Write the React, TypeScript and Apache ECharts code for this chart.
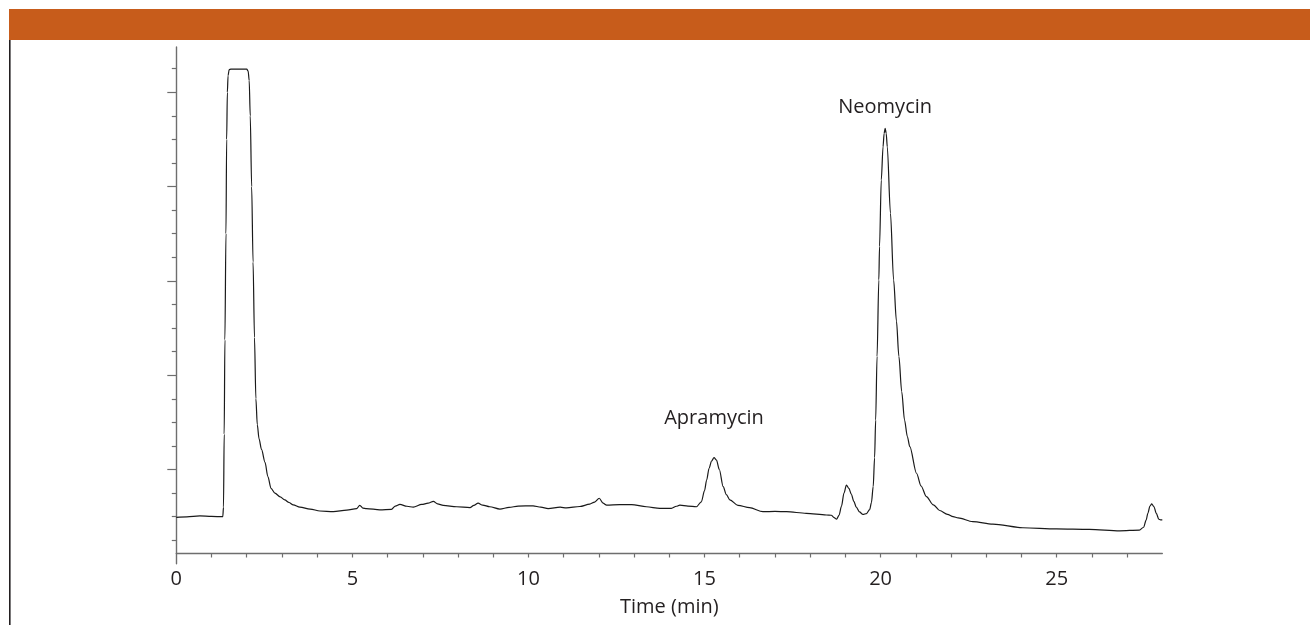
import React, { useEffect, useRef } from "react";
import * as echarts from "echarts";

// Retention time (min)
const timeMin = [
  0, 0.3, 0.67, 1.0, 1.32,
  1.34, 1.36, 1.38, 1.41, 1.43, 1.45, 1.47, 1.5, 1.55, 1.8, 2.0, 2.04, 2.07,
  2.1, 2.14, 2.18, 2.22, 2.26, 2.3, 2.35, 2.42, 2.52, 2.6, 2.69, 2.8, 2.95, 3.08, 3.2, 3.32, 3.51,
  3.8, 4.08, 4.46, 4.84, 5.12, 5.21, 5.3, 5.4, 5.78, 6.11, 6.22, 6.35, 6.55, 6.73, 6.97, 7.15,
  7.3, 7.42, 7.58, 7.96, 8.34, 8.45, 8.57, 8.7, 8.9, 9.19, 9.45, 9.71, 10.13, 10.35, 10.56, 10.9,
  11.08, 11.46, 11.74, 11.88, 12.01, 12.12, 12.22, 12.59, 12.93, 13.35, 13.73, 14.06, 14.2, 14.3,
  14.53, 14.77, 14.91, 15.0, 15.06, 15.13, 15.2, 15.27, 15.34, 15.42, 15.53, 15.62, 15.72, 15.95,
  16.28, 16.66, 17.0, 17.33, 17.89, 18.46, 18.6, 18.68, 18.75, 18.82, 18.89, 18.96, 19.03, 19.1,
  19.17, 19.24, 19.31, 19.4, 19.5, 19.6, 19.69, 19.74, 19.79, 19.83, 19.86, 19.9, 19.95, 19.97,
  20.02, 20.07, 20.1, 20.13, 20.16, 20.19, 20.28, 20.37, 20.45, 20.52, 20.6, 20.68, 20.76, 20.83,
  21.02, 21.15, 21.3, 21.5, 21.68, 21.9, 22.06, 22.2, 22.62, 23.19, 24.04, 24.99, 25.93, 26.79,
  27.35, 27.47, 27.54, 27.59, 27.65, 27.7, 27.76, 27.83, 27.9, 27.95, 28.0,
];

// Detector response (arbitrary units)
const signal = [
  19.7, 19.9, 20.3, 20.1, 20.0,
  24, 55, 95, 140, 180, 200, 207, 209.6, 209.8, 209.8, 209.8, 209, 205,
  190, 160, 128, 96, 70, 59, 53, 48.5, 43, 37, 32, 30, 28.4, 27.1, 26, 25, 24.0,
  23.2, 22.4, 22.1, 22.8, 23.4, 24.8, 23.6, 23.4, 22.9, 23.1, 24.5, 25.2, 24.4, 24.0, 25.2, 25.7,
  26.5, 25.4, 24.8, 24.2, 23.8, 24.8, 25.7, 24.9, 24.2, 23.2, 23.9, 24.5, 24.6, 24.0, 23.4, 24.0,
  23.7, 24.3, 25.3, 26.2, 27.8, 25.7, 24.9, 25.1, 25.1, 24.2, 23.5, 23.5, 24.4, 24.9,
  24.5, 24.2, 26.3, 31, 35.5, 40.5, 43.6, 45.0, 44.0, 40.0, 32.7, 29.3, 27.1, 24.8,
  23.8, 22.1, 22.2, 22.1, 21.4, 20.7, 20.6, 19.6, 18.9, 20.6, 24.5, 30.0, 33.4, 32.0,
  29.5, 26.5, 24.0, 22.0, 20.9, 21.3, 23.0, 26.0, 32.7, 45, 61, 88, 120.4, 134.5,
  162.8, 176.9, 182.5, 184.7, 182.5, 176.9, 148.7, 120.4, 103, 88, 73, 61, 54, 49.7,
  38.4, 33, 28.5, 25.0, 22.6, 21.0, 20.0, 19.5, 17.9, 16.8, 15.3, 14.8, 14.6, 14.0,
  14.3, 15.5, 18.5, 21.4, 24.5, 25.4, 24.3, 21.4, 18.9, 18.6, 18.6,
];

const xTickLabels = [0, 5, 10, 15, 20, 25];
const xTickValues = [1, 2, 3, 4, 5, 6, 7, 8, 9, 10, 11, 12, 13, 14, 15, 16, 17, 18, 19, 20, 21, 22, 23, 24, 25, 26, 27];
const yMajorTicks = [40, 80, 120, 160, 200];
const axisName = "Time (min)";

const peakNames = ["Apramycin", "Neomycin"];
const peakTimes = [15.27, 20.13];
const peakHeights = [45.0, 184.7];
const peakLabelGaps = [31, 13];

const FONT = "'Open Sans', 'Noto Sans', sans-serif";
const TEXT = "#231f20";
const AXIS = "#6e6e6e";

export default function App() {
  const ref = useRef<HTMLDivElement>(null);
  useEffect(() => {
    if (!ref.current) return;
    const chart = echarts.init(ref.current, null, { renderer: "svg" });
    const data = timeMin.map((t, i) => [t, signal[i]]);
    chart.setOption({
      animation: false,
      textStyle: { fontFamily: FONT },
      grid: { left: 176.3, right: 147.7, top: 47, bottom: 61.2, containLabel: false, outerBoundsMode: "none" },
      xAxis: {
        type: "value",
        min: 0,
        max: 28,
        interval: 1,
        offset: -10.8,
        name: axisName,
        nameLocation: "middle",
        nameGap: 42,
        nameTextStyle: { color: TEXT, fontSize: 20, fontFamily: FONT },
        axisLine: { show: true, onZero: false, lineStyle: { color: AXIS, width: 1.4 } },
        axisTick: { show: true, length: 4.5, customValues: xTickValues, lineStyle: { color: AXIS, width: 1.2 } },
        axisLabel: { show: true, customValues: xTickLabels, margin: 14, color: TEXT, fontSize: 20, fontFamily: FONT },
        splitLine: { show: false },
      },
      yAxis: {
        type: "value",
        min: 0,
        max: 219.2,
        interval: 40,
        axisLine: { show: true, onZero: false, lineStyle: { color: AXIS, width: 1.4 } },
        axisTick: { show: true, length: 9, customValues: yMajorTicks, lineStyle: { color: AXIS, width: 1.2 } },
        minorTick: { show: true, splitNumber: 4, length: 4.5, lineStyle: { color: AXIS, width: 1.2 } },
        axisLabel: { show: false },
        splitLine: { show: false },
        minorSplitLine: { show: false },
      },
      series: [
        {
          type: "line",
          data,
          symbol: "none",
          smooth: 0.3,
          smoothMonotone: "x",
          silent: true,
          lineStyle: { color: "#1a1a1a", width: 1.2 },
          markPoint: {
            symbol: "circle",
            symbolSize: 0,
            silent: true,
            itemStyle: { color: "transparent" },
            data: peakNames.map((n, i) => ({
              name: n,
              coord: [peakTimes[i], peakHeights[i]],
              label: {
                show: true,
                position: "top",
                distance: peakLabelGaps[i],
                formatter: n,
                color: TEXT,
                fontSize: 20,
                fontFamily: FONT,
              },
            })),
          },
        },
      ],
      graphic: [
        { type: "rect", shape: { x: 9, y: 9, width: 1301, height: 31 }, style: { fill: "#c75c1b" } },
        { type: "line", shape: { x1: 9.8, y1: 40, x2: 9.8, y2: 625 }, style: { stroke: "#231f20", lineWidth: 1.6 } },
      ],
    });
    return () => chart.dispose();
  }, []);
  return <div ref={ref} style={{ position: "fixed", left: 0, top: 0, width: 1310, height: 625 }} />;
}
